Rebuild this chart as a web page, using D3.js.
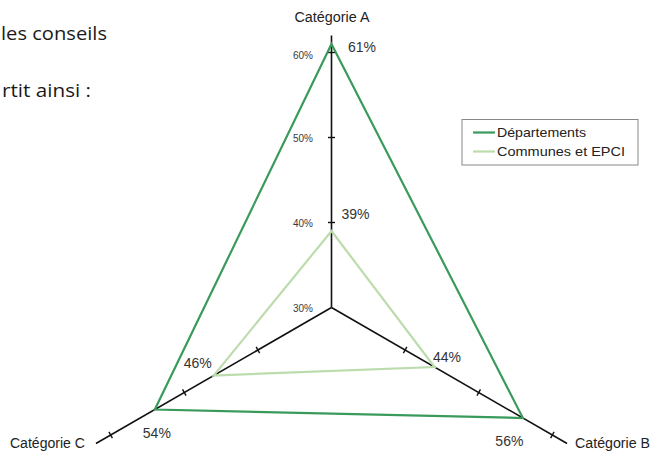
<!DOCTYPE html>
<html>
<head>
<meta charset="utf-8">
<script src="https://cdn.jsdelivr.net/npm/d3@7"></script>
<style>
  html, body { margin: 0; padding: 0; background: #fff; }
  svg { display: block; }
</style>
</head>
<body>
<svg id="chart" width="653" height="452"></svg>
<script>
// ---- data ----
const categories = ["Catégorie A", "Catégorie B", "Catégorie C"];
const departements = [61, 56, 54];
const communes = [39, 44, 46];
const tickValues = [30, 40, 50, 60];
const tickLabels = ["30%", "40%", "50%", "60%"];
const seriesNames = ["Départements", "Communes et EPCI"];
const introLines = ["les conseils", "rtit ainsi :"];

// ---- layout ----
const svg = d3.select("#chart");
const cx = 331.5, cy = 307.5;
const r = d3.scaleLinear().domain([30, 62]).range([0, 272]);
const angles = [-90, 30, 150].map(a => a * Math.PI / 180);
const colors = ["#3a9a5c", "#bcdcad"];
const font = "'Liberation Sans', Arial, sans-serif";

const pt = (i, v) => [cx + r(v) * Math.cos(angles[i]), cy + r(v) * Math.sin(angles[i])];

// intro text (fragment of a document)
svg.selectAll("text.intro").data(introLines).join("text")
  .attr("class", "intro")
  .attr("x", (d, i) => i === 0 ? 1 : 2)
  .attr("y", (d, i) => i === 0 ? 40 : 97)
  .attr("textLength", (d, i) => i === 0 ? 106 : 89)
  .attr("lengthAdjust", "spacingAndGlyphs")
  .attr("font-family", "'Open Sans', 'Noto Sans', sans-serif")
  .attr("font-size", 17.5)
  .attr("fill", "#1a1a1a")
  .text(d => d);

// axes
const axisG = svg.append("g");
categories.forEach((c, i) => {
  const [x2, y2] = pt(i, 62);
  axisG.append("line")
    .attr("x1", cx).attr("y1", cy).attr("x2", x2).attr("y2", y2)
    .attr("stroke", "#111").attr("stroke-width", 1.6);
  tickValues.slice(1).forEach(t => {
    const [tx, ty] = pt(i, t);
    const px = -Math.sin(angles[i]), py = Math.cos(angles[i]);
    axisG.append("line")
      .attr("x1", tx - px * 3.5).attr("y1", ty - py * 3.5)
      .attr("x2", tx + px * 3.5).attr("y2", ty + py * 3.5)
      .attr("stroke", "#111").attr("stroke-width", 1.4);
  });
});

// tick labels on axis A
svg.selectAll("text.tick").data(tickValues).join("text")
  .attr("class", "tick")
  .attr("x", 313)
  .attr("y", (d, i) => pt(0, d)[1] + (i === 3 ? 6 : 4))
  .attr("text-anchor", "end")
  .attr("font-family", font)
  .attr("font-size", 10)
  .attr("fill", "#3a3a3a")
  .attr("textLength", 20)
  .attr("lengthAdjust", "spacingAndGlyphs")
  .text((d, i) => tickLabels[i]);

// category labels
const catOff = [[0.5, -13.5, "middle"], [8, 4.5, "start"], [-11, 4.5, "end"]];
svg.selectAll("text.cat").data(categories).join("text")
  .attr("class", "cat")
  .attr("x", (d, i) => pt(i, 62)[0] + catOff[i][0])
  .attr("y", (d, i) => pt(i, 62)[1] + catOff[i][1])
  .attr("text-anchor", (d, i) => catOff[i][2])
  .attr("font-family", font)
  .attr("font-size", 14)
  .attr("textLength", 75)
  .attr("lengthAdjust", "spacingAndGlyphs")
  .attr("fill", "#222")
  .text(d => d);

// series polygons
const line = d3.line().curve(d3.curveLinearClosed);
[departements, communes].forEach((vals, s) => {
  svg.append("path")
    .attr("d", line(vals.map((v, i) => pt(i, v))))
    .attr("fill", "none")
    .attr("stroke", colors[s])
    .attr("stroke-width", 2.2)
    .attr("stroke-linejoin", "miter");
});

// value labels
const valOff = [
  [[16.5, 8, "start"], [0.5, 28, "end"], [2, 28.5, "middle"]],
  [[10, -12, "start"], [-1.5, -5, "start"], [-2, -7.5, "end"]]
];
[departements, communes].forEach((vals, s) => {
  svg.selectAll("text.val" + s).data(vals).join("text")
    .attr("class", "val" + s)
    .attr("x", (d, i) => pt(i, d)[0] + valOff[s][i][0])
    .attr("y", (d, i) => pt(i, d)[1] + valOff[s][i][1])
    .attr("text-anchor", (d, i) => valOff[s][i][2])
    .attr("font-family", font)
    .attr("font-size", 14)
    .attr("fill", "#333")
    .text(d => d + "%");
});

// legend
const lg = svg.append("g");
lg.append("rect")
  .attr("x", 462).attr("y", 119.5).attr("width", 176).attr("height", 45.5)
  .attr("fill", "#fff").attr("stroke", "#888").attr("stroke-width", 1);
seriesNames.forEach((n, i) => {
  const y = 132.5 + i * 19;
  lg.append("line")
    .attr("x1", 473).attr("x2", 495).attr("y1", y).attr("y2", y)
    .attr("stroke", colors[i]).attr("stroke-width", 2.2);
  lg.append("text")
    .attr("x", 497).attr("y", y + 4)
    .attr("font-family", font).attr("font-size", 13)
    .attr("textLength", i === 0 ? 89 : 128)
    .attr("lengthAdjust", "spacingAndGlyphs")
    .attr("fill", "#222")
    .text(n);
});
</script>
</body>
</html>
